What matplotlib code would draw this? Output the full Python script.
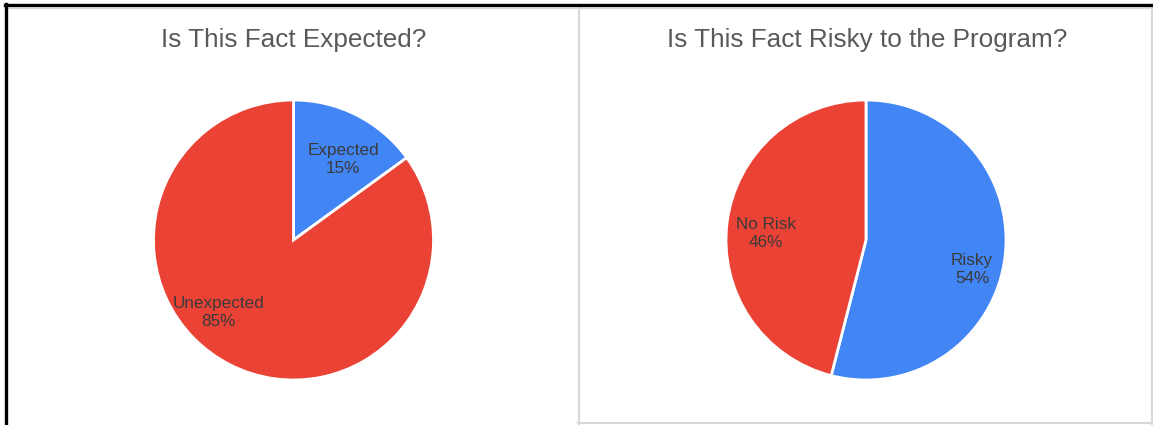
import matplotlib
matplotlib.use("Agg")
import numpy as np
import matplotlib.pyplot as plt
from matplotlib.lines import Line2D

plt.rcParams['font.family'] = ['Liberation Sans', 'DejaVu Sans']

# Data
left_title = "Is This Fact Expected?"
left_labels = ["Expected", "Unexpected"]
left_values = [15, 85]

right_title = "Is This Fact Risky to the Program?"
right_labels = ["Risky", "No Risk"]
right_values = [54, 46]

BLUE = "#4285F4"
RED = "#EA4335"
colors = [BLUE, RED]

W, H = 1153, 425
fig = plt.figure(figsize=(W / 100, H / 100), dpi=100)
fig.patch.set_facecolor("white")

def px_axes(cx, cy, r):
    return fig.add_axes([(cx - r) / W, (H - cy - r) / H, 2 * r / W, 2 * r / H])

def draw_pie(ax, values, labels, label_dist, label_off):
    wedges, texts = ax.pie(values, colors=colors, startangle=90, counterclock=False,
                           wedgeprops=dict(edgecolor="white", linewidth=2),
                           radius=1.0)
    for i, (w, t) in enumerate(zip(wedges, texts)):
        ang = np.deg2rad((w.theta1 + w.theta2) / 2 + label_off[i])
        d = label_dist[i]
        t.set_position((d * np.cos(ang), d * np.sin(ang)))
        t.set_text(f"{labels[i]}\n{values[i]}%")
        t.set_ha("center")
        t.set_va("center")
        t.set_fontsize(12.3)
        t.set_color("#3a3a3a")
        t.set_linespacing(1.25)
    ax.set_xlim(-1, 1)
    ax.set_ylim(-1, 1)
    ax.set_aspect("equal")
    ax.axis("off")

ax1 = px_axes(293.5, 240, 140)
draw_pie(ax1, left_values, left_labels, [0.675, 0.747], [-4.6, -18.8])
ax2 = px_axes(866, 240, 140)
draw_pie(ax2, right_values, right_labels, [0.787, 0.716], [-8.6, 3.2])

fig.text(293.5 / W, 1 - 47 / H, left_title, ha="center", va="baseline", fontsize=18.8, color="#595959")
fig.text(867 / W, 1 - 47 / H, right_title, ha="center", va="baseline", fontsize=18.8, color="#595959")

# borders
def hline(y, x0, x1, color, lw):
    fig.add_artist(Line2D([x0 / W, x1 / W], [1 - y / H, 1 - y / H], color=color, lw=lw, transform=fig.transFigure))

def vline(x, y0, y1, color, lw):
    fig.add_artist(Line2D([x / W, x / W], [1 - y0 / H, 1 - y1 / H], color=color, lw=lw, transform=fig.transFigure))

grey = "#d9d9d9"
hline(7.5, 8, 1152, grey, 1.0)
vline(578.7, 7, 424, grey, 1.5)
vline(1151.7, 7, 424, grey, 1.5)
hline(423.2, 578, 1152, grey, 1.5)
hline(5, 5, 1153, "black", 2.4)
vline(6, 4, 425, "black", 2.4)

fig.savefig("out.png", dpi=100, facecolor="white")
